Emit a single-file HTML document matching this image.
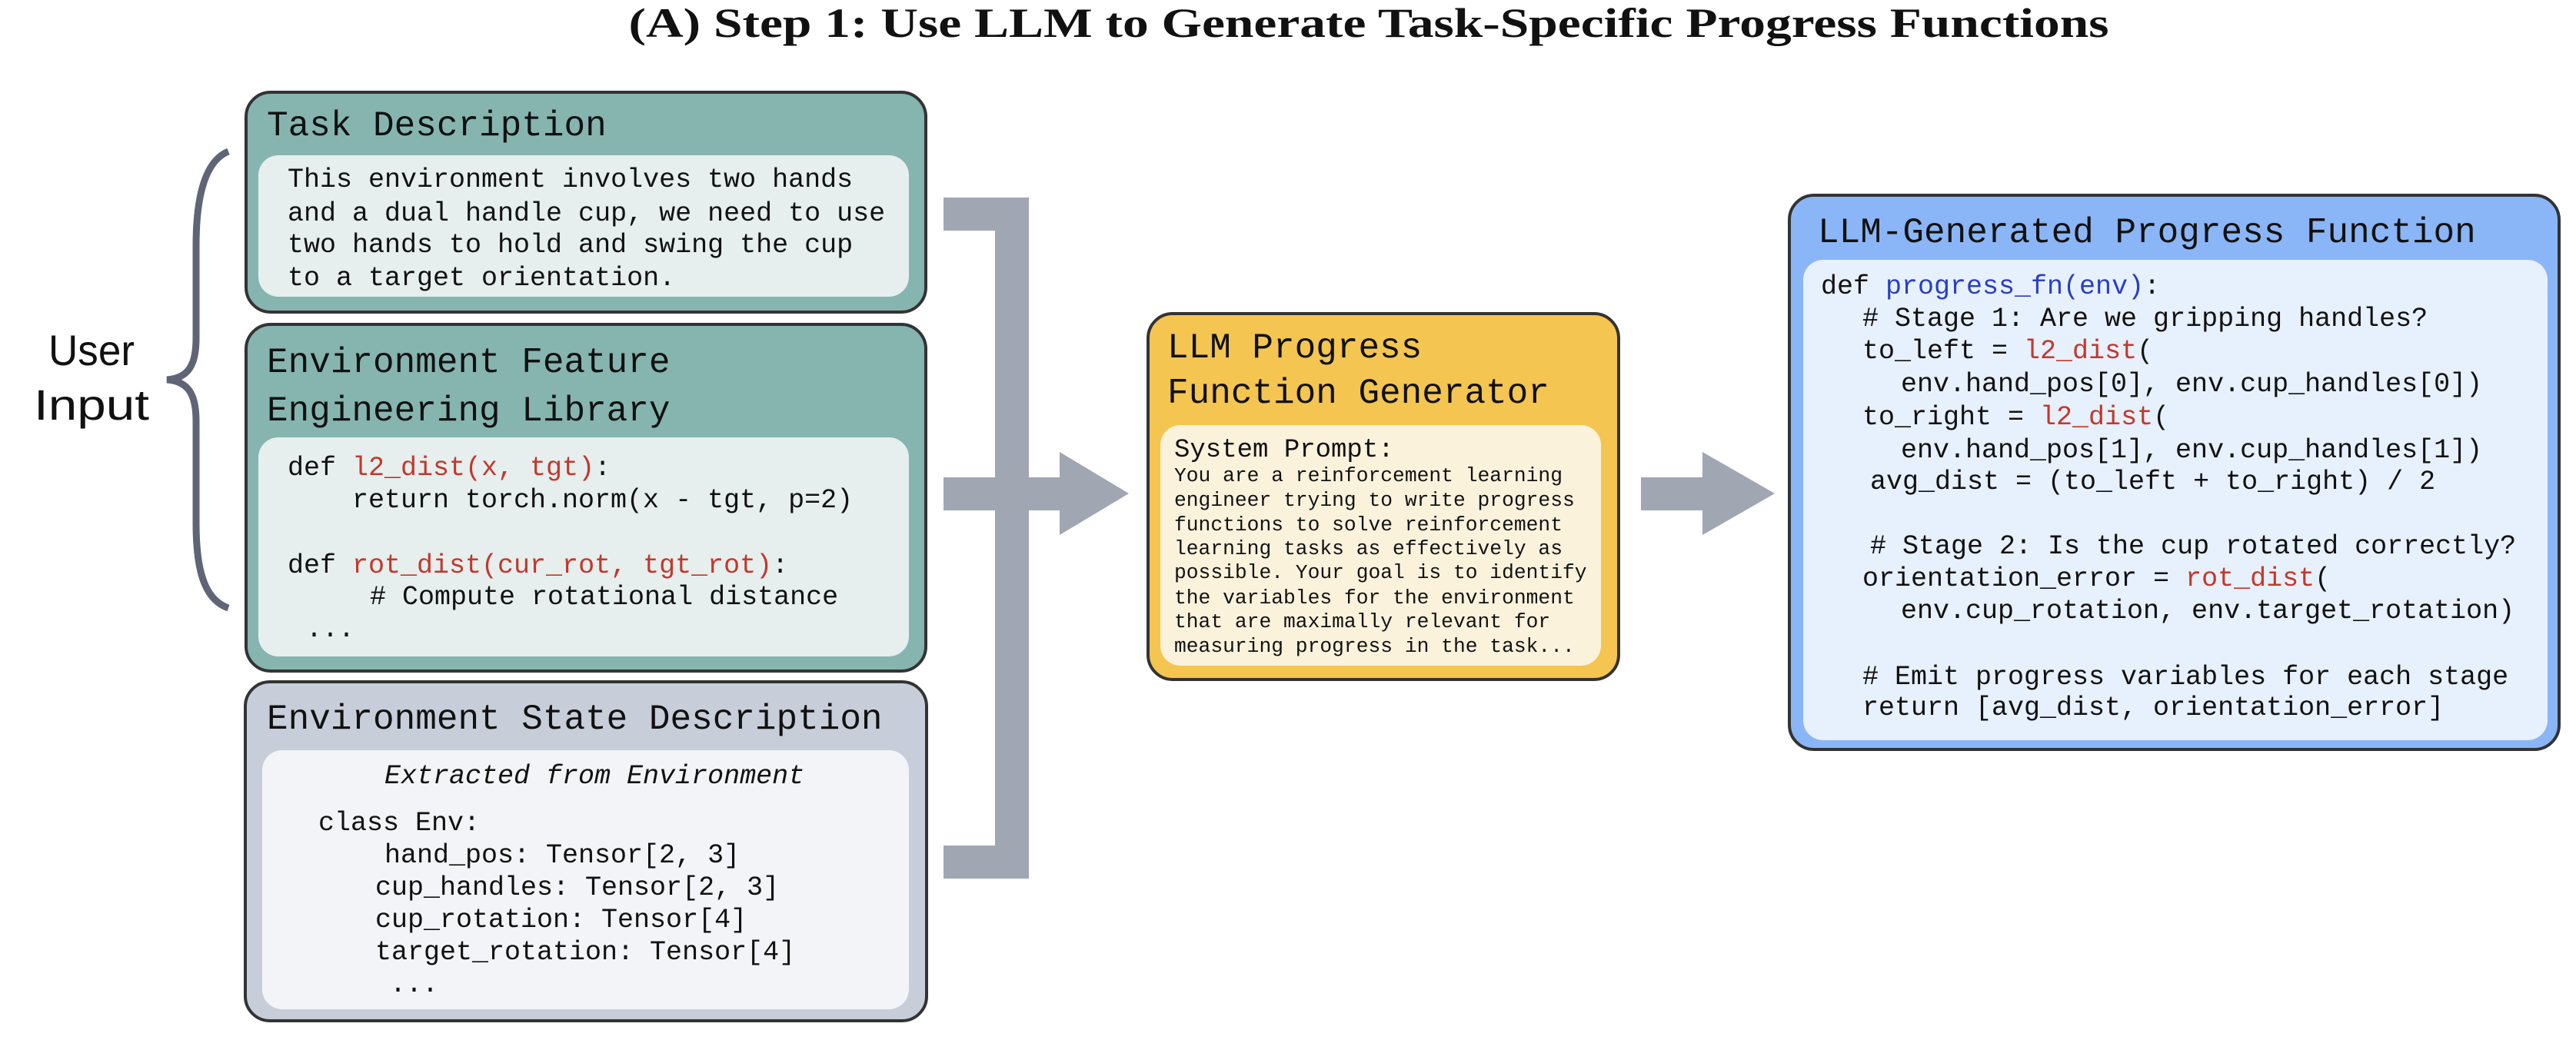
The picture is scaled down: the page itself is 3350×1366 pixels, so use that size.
<!DOCTYPE html>
<html><head><meta charset="utf-8"><style>
html,body{margin:0;padding:0;background:#fff;}
svg{display:block;}
.m{font-family:"Liberation Mono",monospace;fill:#111;}
.r{fill:#c0392b;}
.b{fill:#2a3fc0;}
</style></head><body>
<svg width="3350" height="1366" viewBox="0 0 3350 1366" xmlns="http://www.w3.org/2000/svg">
<rect width="3350" height="1366" fill="#fff"/>
<text x="1780" y="48" text-anchor="middle" font-family="Liberation Serif, serif" font-weight="bold" font-size="54" textLength="1925" lengthAdjust="spacingAndGlyphs" fill="#111">(A) Step 1: Use LLM to Generate Task-Specific Progress Functions</text>

<!-- brace -->
<path d="M297,197 C265,210 255,260 255,320 L255,440 C255,475 245,492 217,494 C245,496 255,513 255,548 L255,680 C255,740 265,780 297,791" fill="none" stroke="#5f6577" stroke-width="9"/>
<text x="119" y="475" text-anchor="middle" font-family="Liberation Sans, sans-serif" font-size="56" textLength="112" lengthAdjust="spacingAndGlyphs" fill="#111">User</text>
<text x="119" y="546" text-anchor="middle" font-family="Liberation Sans, sans-serif" font-size="56" textLength="150" lengthAdjust="spacingAndGlyphs" fill="#111">Input</text>

<!-- Task description -->
<rect x="320" y="120" width="884" height="286" rx="32" fill="#86b5b0" stroke="#333" stroke-width="4"/>
<rect x="336" y="202" width="846" height="184" rx="26" fill="#e6eeee"/>
<text class="m" x="347" y="176" font-size="46">Task Description</text>
<g class="m" font-size="35">
<text x="374" y="243">This environment involves two hands</text>
<text x="374" y="287">and a dual handle cup, we need to use</text>
<text x="374" y="328">two hands to hold and swing the cup</text>
<text x="374" y="371">to a target orientation.</text>
</g>

<!-- Env feature library -->
<rect x="320" y="422" width="884" height="451" rx="32" fill="#86b5b0" stroke="#333" stroke-width="4"/>
<rect x="336" y="569" width="846" height="285" rx="26" fill="#e6eeee"/>
<text class="m" x="347" y="484" font-size="46">Environment Feature</text>
<text class="m" x="347" y="547" font-size="46">Engineering Library</text>
<g class="m" font-size="35">
<text x="374" y="618">def <tspan class="r">l2_dist(x, tgt)</tspan>:</text>
<text x="458" y="660">return torch.norm(x - tgt, p=2)</text>
<text x="374" y="745">def <tspan class="r">rot_dist(cur_rot, tgt_rot)</tspan>:</text>
<text x="481" y="786"># Compute rotational distance</text>
<text x="398" y="828">...</text>
</g>

<!-- Env state -->
<rect x="319" y="887" width="886" height="441" rx="32" fill="#c8ced9" stroke="#333" stroke-width="4"/>
<rect x="341" y="976" width="841" height="337" rx="26" fill="#f2f4f7"/>
<text class="m" x="347" y="948" font-size="46">Environment State Description</text>
<g class="m" font-size="35">
<text x="500" y="1019" font-style="italic">Extracted from Environment</text>
<text x="414" y="1080">class Env:</text>
<text x="500" y="1122">hand_pos: Tensor[2, 3]</text>
<text x="488" y="1164">cup_handles: Tensor[2, 3]</text>
<text x="488" y="1206">cup_rotation: Tensor[4]</text>
<text x="488" y="1248">target_rotation: Tensor[4]</text>
<text x="507" y="1290">...</text>
</g>

<!-- connectors -->
<g fill="#a0a6b2">
<rect x="1227" y="257" width="111" height="43"/>
<rect x="1227" y="621" width="111" height="43"/>
<rect x="1227" y="1100" width="111" height="43"/>
<rect x="1294" y="257" width="44" height="886"/>
<rect x="1338" y="621" width="42" height="43"/>
<polygon points="1378,588 1468,642 1378,696"/>
<rect x="2134" y="621" width="82" height="43"/>
<polygon points="2214,588 2308,642 2214,696"/>
</g>

<!-- LLM generator -->
<rect x="1493" y="408" width="612" height="476" rx="32" fill="#f4c550" stroke="#333" stroke-width="4"/>
<rect x="1509" y="553" width="573" height="313" rx="26" fill="#fbf2dc"/>
<text class="m" x="1518" y="465" font-size="46">LLM Progress</text>
<text class="m" x="1518" y="524" font-size="46">Function Generator</text>
<text class="m" x="1527" y="594" font-size="34">System Prompt:</text>
<g class="m" font-size="26.3">
<text x="1527" y="626">You are a reinforcement learning</text>
<text x="1527" y="658">engineer trying to write progress</text>
<text x="1527" y="690">functions to solve reinforcement</text>
<text x="1527" y="721">learning tasks as effectively as</text>
<text x="1527" y="752">possible. Your goal is to identify</text>
<text x="1527" y="785">the variables for the environment</text>
<text x="1527" y="816">that are maximally relevant for</text>
<text x="1527" y="848">measuring progress in the task...</text>
</g>

<!-- Generated function -->
<rect x="2327" y="254" width="1001" height="721" rx="32" fill="#8ab6f7" stroke="#333" stroke-width="4"/>
<rect x="2345" y="338" width="968" height="625" rx="26" fill="#e7f0fd"/>
<text class="m" x="2364" y="315" font-size="46">LLM-Generated Progress Function</text>
<g class="m" font-size="35">
<text x="2368" y="382">def <tspan class="b">progress_fn(env)</tspan>:</text>
<text x="2422" y="424"># Stage 1: Are we gripping handles?</text>
<text x="2422" y="466">to_left = <tspan class="r">l2_dist</tspan>(</text>
<text x="2472" y="509">env.hand_pos[0], env.cup_handles[0])</text>
<text x="2422" y="552">to_right = <tspan class="r">l2_dist</tspan>(</text>
<text x="2472" y="595">env.hand_pos[1], env.cup_handles[1])</text>
<text x="2432" y="636">avg_dist = (to_left + to_right) / 2</text>
<text x="2432" y="720"># Stage 2: Is the cup rotated correctly?</text>
<text x="2422" y="762">orientation_error = <tspan class="r">rot_dist</tspan>(</text>
<text x="2472" y="804">env.cup_rotation, env.target_rotation)</text>
<text x="2422" y="890"># Emit progress variables for each stage</text>
<text x="2422" y="930">return [avg_dist, orientation_error]</text>
</g>
</svg>
</body></html>
